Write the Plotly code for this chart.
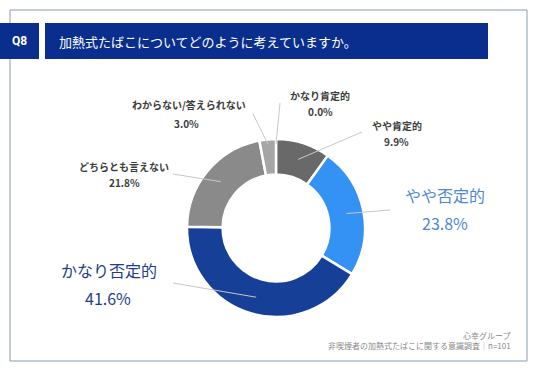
import math
import plotly.graph_objects as go

# ---- data ----
categories = ["かなり肯定的", "やや肯定的", "やや否定的", "かなり否定的", "どちらとも言えない", "わからない/答えられない"]
values = [0.0, 9.9, 23.8, 41.6, 21.8, 3.0]
slice_colors = ["#4a4a4a", "#696969", "#3592f5", "#163f98", "#8a8a8a", "#a6a6a6"]
title_text = "加熱式たばこについてどのように考えていますか。"
question_no = "Q8"
source_lines = ["心幸グループ", "非喫煙者の加熱式たばこに関する意識調査｜n=101"]

W, H = 536, 371
def px(x):
    return x / W
def py(y):
    return 1 - y / H

# donut geometry (pixels)
CX, CY, R = 276, 228, 89

# label layout (pixels): name centre, pct centre, font size, colour, leader start, leader radius
label_layout = [
    ((320, 95), (320, 111), 10, "#3c3c3c", (280, 103), 84),
    ((397, 125), (397, 141), 10, "#3c3c3c", (362, 132), 72),
    ((445, 195), (445, 223), 16, "#4f86d6", (390, 210), 72),
    ((109, 270), (108, 298), 16, "#1e3d8c", (173, 283), 72),
    ((124, 166), (124, 182), 10, "#3c3c3c", (173, 174), 72),
    ((189, 105), (186, 123), 10, "#3c3c3c", (253, 114), 84),
]

FONT = "Noto Sans CJK JP"

fig = go.Figure()
fig.add_trace(go.Pie(
    labels=categories,
    values=values,
    sort=False,
    direction="clockwise",
    rotation=0,
    hole=0.6,
    marker=dict(colors=slice_colors, line=dict(color="white", width=2.5)),
    textinfo="none",
    hoverinfo="label+percent",
    showlegend=False,
    domain=dict(x=[px(CX - R), px(CX + R)], y=[py(CY + R), py(CY - R)]),
))

shapes = []
# outer frame
shapes.append(dict(type="rect", xref="paper", yref="paper",
                   x0=px(10), x1=px(527), y0=py(361), y1=py(10),
                   line=dict(color="#8d9bb5", width=1), fillcolor="rgba(0,0,0,0)", layer="below"))
# header boxes
shapes.append(dict(type="rect", xref="paper", yref="paper",
                   x0=px(0), x1=px(39), y0=py(59), y1=py(23),
                   line=dict(width=0), fillcolor="#0a2e8e"))
shapes.append(dict(type="rect", xref="paper", yref="paper",
                   x0=px(45), x1=px(488), y0=py(59), y1=py(23),
                   line=dict(width=0), fillcolor="#0a2e8e"))

annotations = []
annotations.append(dict(text=question_no, x=px(19.5), y=py(41), xref="paper", yref="paper",
                        showarrow=False, xanchor="center", yanchor="middle",
                        font=dict(family="Roboto", size=12, color="white", weight="bold")))
annotations.append(dict(text=title_text, x=px(57), y=py(41), xref="paper", yref="paper",
                        showarrow=False, xanchor="left", yanchor="middle",
                        font=dict(family=FONT, size=13, color="white")))

total = sum(values)
cum = 0.0
for cat, v, lay in zip(categories, values, label_layout):
    (nx, ny), (pxx, pyy), fs, col, (sx, sy), rr = lay
    mid = (cum + v / 2) / total * 2 * math.pi
    cum += v
    ex = CX + rr * math.sin(mid)
    ey = CY - rr * math.cos(mid)
    shapes.append(dict(type="line", xref="paper", yref="paper",
                       x0=px(sx), y0=py(sy), x1=px(ex), y1=py(ey),
                       line=dict(color="#c8c8c8", width=1)))
    weight = "normal" if fs > 12 else "bold"
    annotations.append(dict(text=cat, x=px(nx), y=py(ny), xref="paper", yref="paper",
                            showarrow=False, xanchor="center", yanchor="middle",
                            font=dict(family=FONT, size=fs, color=col, weight=weight)))
    annotations.append(dict(text=f"{v:.1f}%", x=px(pxx), y=py(pyy), xref="paper", yref="paper",
                            showarrow=False, xanchor="center", yanchor="middle",
                            font=dict(family=FONT, size=fs, color=col, weight=weight)))

for t, yy in zip(source_lines, [335, 345]):
    annotations.append(dict(text=t, x=px(513), y=py(yy), xref="paper", yref="paper",
                            showarrow=False, xanchor="right", yanchor="middle",
                            font=dict(family=FONT, size=8, color="#8a8a8a")))

fig.update_layout(
    width=W, height=H,
    margin=dict(l=0, r=0, t=0, b=0),
    paper_bgcolor="white", plot_bgcolor="white",
    shapes=shapes, annotations=annotations,
    showlegend=False,
)

fig.write_html("out.html", config={"displayModeBar": False},
               post_script="document.body.style.margin='0';document.body.style.overflow='hidden';")
